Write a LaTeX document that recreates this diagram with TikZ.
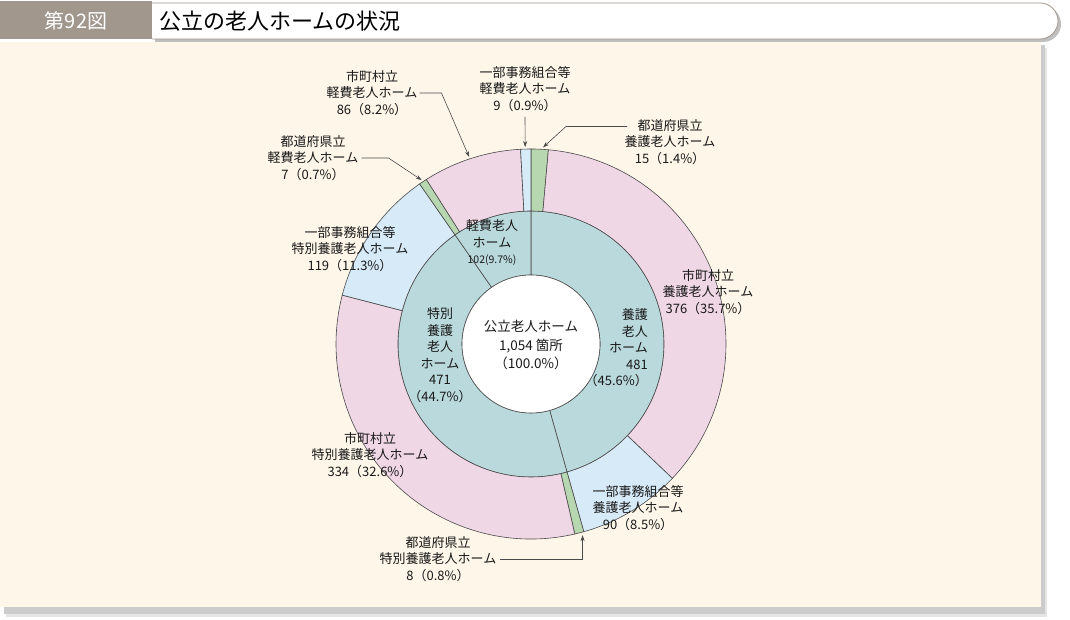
\documentclass[tikz,border=0pt]{standalone}
\usepackage{fontspec}
\newfontfamily\cjk{Noto Sans CJK JP}
\usetikzlibrary{arrows.meta}
\definecolor{bgcream}{HTML}{FDF6E9}
\definecolor{titlegray}{HTML}{A1978D}
\definecolor{barline}{HTML}{A0968D}
\definecolor{ringpink}{HTML}{F0D7E6}
\definecolor{ringblue}{HTML}{D7EAF8}
\definecolor{ringgreen}{HTML}{B7D7B0}
\definecolor{ringteal}{HTML}{BAD9DC}
\definecolor{edge}{HTML}{4A4A4A}
\newcommand{\ringpart}[5]{%
  \filldraw[wedge,fill=#1] (#4:#3) arc (#4:#5:#3) -- (#5:#2) arc (#5:#4:#2) -- cycle;}

\begin{document}
\begin{tikzpicture}[x=1pt,y=1pt]
\tikzstyle{every node}+=[inner sep=0pt]
\tikzstyle{wedge}=[draw=edge,line width=0.6pt]
\tikzstyle{lbl}=[font=\cjk\fontsize{13}{16.5}\selectfont,align=center,text=black!90]
\tikzstyle{leader}=[draw=edge,line width=0.6pt,-{Stealth[length=6pt,width=4pt]}]
\useasboundingbox (0,0) rectangle (1070,620);
% panel and title bar
\fill [black!10] (6,3) rectangle (1047,572);
\fill [black!20] (4,6) rectangle (1045,575);
\fill [bgcream] (0,13) rectangle (1041,578);
\fill [black!25] (155,578) -- (1043,578) arc (-90:90:18) -- (155,614) -- cycle;
\fill [titlegray] (0,581) rectangle (152,618);
\draw [barline] (0,618.5) -- (152,618.5);
\filldraw [draw=barline,line width=0.8pt,fill=white] (152,581) -- (1040,581) arc (-90:90:18) -- (152,617);
\node [font=\cjk\fontsize{20}{22}\selectfont,text=white] (fignum) at (76,599) {第92図};
\node [font=\cjk\fontsize{22}{24}\selectfont,anchor=west] (figtitle) at (159,599) {公立の老人ホームの状況};
% rings
\begin{scope}[shift={(531,276)}]
\ringpart{ringteal}{69}{133}{90}{-74.29}
\ringpart{ringteal}{69}{133}{-74.29}{-235.16}
\ringpart{ringteal}{69}{133}{-235.16}{-270}
\ringpart{ringgreen}{133}{195}{90}{84.88}
\ringpart{ringpink}{133}{195}{84.88}{-43.55}
\ringpart{ringblue}{133}{195}{-43.55}{-74.29}
\ringpart{ringgreen}{133}{195}{-74.29}{-77.02}
\ringpart{ringpink}{133}{195}{-77.02}{-194.52}
\ringpart{ringblue}{133}{195}{-194.52}{-235.16}
\ringpart{ringgreen}{133}{195}{-235.16}{-237.55}
\ringpart{ringpink}{133}{195}{-237.55}{-266.93}
\ringpart{ringblue}{133}{195}{-266.93}{-270}
\filldraw [wedge,fill=white] (0,0) circle (69);
\coordinate (t1) at (108.3:197);
\coordinate (t2) at (91.7:197);
\coordinate (t3) at (86.5:197);
\coordinate (t4) at (123.7:197);
\coordinate (t9) at (-74.9:198);
\end{scope}
% inner labels
\node [lbl,font=\cjk\fontsize{13.5}{18.5}\selectfont] (total) at (531,275) {公立老人ホーム\\1,054 箇所\\（100.0\%）};
\node [lbl] (keihi) at (492,377) {軽費老人\\ホーム\\{\fontsize{10.5}{16.5}\selectfont 102(9.7\%)}};
\node [lbl] (tokuyo) at (440,265) {特別\\養護\\老人\\ホーム\\471\\（44.7\%）};
\node [lbl,align=right,anchor=east] (yogo) at (648,272) {養護\\老人\\ホーム\\481\\（45.6\%）};
% outer labels
\node [lbl] (l1) at (372,527) {市町村立\\軽費老人ホーム\\86（8.2\%）};
\node [lbl] (l2) at (525,531) {一部事務組合等\\軽費老人ホーム\\9（0.9\%）};
\node [lbl] (l3) at (670,478) {都道府県立\\養護老人ホーム\\15（1.4\%）};
\node [lbl] (l4) at (313,462) {都道府県立\\軽費老人ホーム\\7（0.7\%）};
\node [lbl] (l5) at (350,371) {一部事務組合等\\特別養護老人ホーム\\119（11.3\%）};
\node [lbl] (l6) at (708,328) {市町村立\\養護老人ホーム\\376（35.7\%）};
\node [lbl] (l7) at (370,165) {市町村立\\特別養護老人ホーム\\334（32.6\%）};
\node [lbl] (l8) at (638,112) {一部事務組合等\\養護老人ホーム\\90（8.5\%）};
\node [lbl] (l9) at (438,61) {都道府県立\\特別養護老人ホーム\\8（0.8\%）};
% leaders
\draw [leader] ([xshift=2pt]l1.east) -- ++(22,0) -- (t1);
\draw [leader] (l2.south |- 0,503) -- (t2);
\draw [leader] ([shift={(-43,15.5)}]l3.center) -- ++(-61,0) -- (t3);
\draw [leader] ([xshift=3pt]l4.east) -- ++(27,0) -- (t4);
\draw [leader] ([xshift=3pt]l9.east) -| (t9);
\end{tikzpicture}
\end{document}
